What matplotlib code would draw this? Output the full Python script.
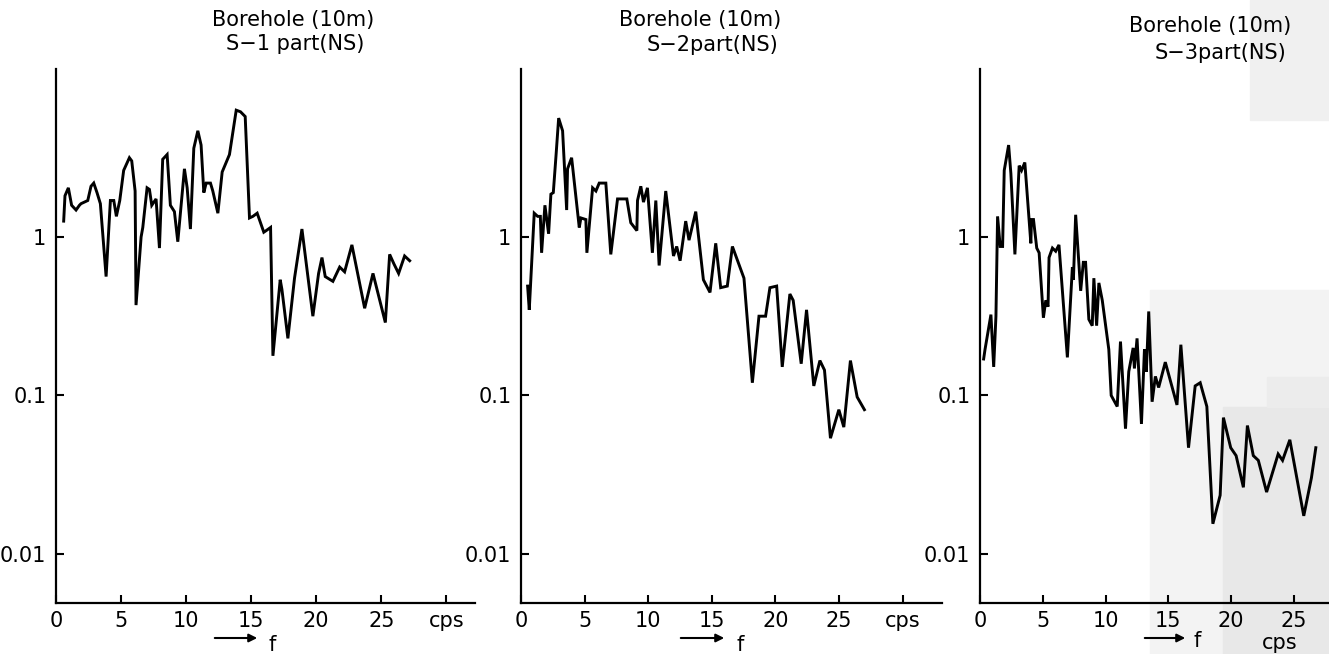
import numpy as np
import matplotlib
matplotlib.use("Agg")
import matplotlib.pyplot as plt
from matplotlib.patches import Rectangle, FancyArrowPatch

# =========================
# SPECTRA (f in cps, amplitude as log10)
# =========================
f_s1 = [0.59, 0.69, 0.95, 1.2, 1.54, 1.8, 1.92, 2.44, 2.69, 2.9, 3.15, 3.41, 3.85,
        4.18, 4.44, 4.64, 4.9, 5.2, 5.64, 5.82, 6.08, 6.15, 6.54, 6.67, 7.0, 7.18,
        7.36, 7.69, 7.95, 8.2, 8.54, 8.79, 9.1, 9.36, 9.87, 10.08, 10.33, 10.59,
        10.9, 11.15, 11.36, 11.54, 11.87, 12.05, 12.44, 12.77, 13.33, 13.85, 14.18,
        14.54, 14.87, 15.13, 15.46, 15.97, 16.15, 16.49, 16.67, 17.23, 17.36, 17.82,
        18.33, 18.9, 19.74, 20.18, 20.44, 20.69, 21.28, 21.8, 22.18, 22.74, 23.72,
        24.36, 25.31, 25.64, 25.97, 26.33, 26.79, 27.18]
lg_s1 = [0.10, 0.26, 0.31, 0.20, 0.17, 0.20, 0.21, 0.23, 0.32, 0.34, 0.28, 0.21, -0.25,
         0.23, 0.23, 0.13, 0.23, 0.42, 0.50, 0.48, 0.29, -0.43, 0.0, 0.06, 0.31, 0.30,
         0.20, 0.24, -0.07, 0.49, 0.52, 0.20, 0.16, -0.03, 0.43, 0.31, 0.05, 0.56,
         0.67, 0.58, 0.28, 0.34, 0.34, 0.29, 0.15, 0.41, 0.52, 0.80, 0.79,
         0.76, 0.12, 0.13, 0.15, 0.03, 0.04, 0.06, -0.75, -0.27, -0.33, -0.64,
         -0.26, 0.05, -0.50, -0.23, -0.13, -0.25, -0.28, -0.19, -0.22, -0.05, -0.45,
         -0.23, -0.54, -0.11, -0.17, -0.23, -0.12, -0.15]

f_s2 = [0.52, 0.65, 1.04, 1.31, 1.52, 1.62, 1.88, 2.17, 2.35, 2.54, 2.75, 2.96, 3.27,
        3.59, 3.66, 3.98, 4.58, 4.71, 5.1, 5.18, 5.63, 5.89, 6.15, 6.67, 7.06, 7.59,
        8.32, 8.63, 9.11, 9.16, 9.42, 9.63, 9.94, 10.33, 10.6, 10.86, 11.38, 11.99,
        12.24, 12.51, 12.95, 13.21, 13.74, 14.34, 14.86, 15.31, 15.7, 16.22, 16.62,
        17.53, 18.19, 18.71, 19.23, 19.57, 20.1, 20.54, 21.14, 21.4, 22.03, 22.45,
        23.02, 23.5, 23.86, 24.33, 24.99, 25.38, 25.9, 26.43, 27.0]
lg_s2 = [-0.31, -0.46, 0.15, 0.13, 0.13, -0.10, 0.20, 0.02, 0.27, 0.28, 0.51, 0.75, 0.67,
         0.17, 0.43, 0.50, 0.06, 0.12, 0.11, -0.10, 0.31, 0.29, 0.34, 0.34, -0.11, 0.24,
         0.24, 0.09, 0.04, 0.23, 0.32, 0.22, 0.31, -0.10, 0.23, -0.18, 0.29, -0.12,
         -0.06, -0.15, 0.10, -0.02, 0.16, -0.27, -0.35, -0.04, -0.32, -0.31, -0.06,
         -0.26, -0.92, -0.50, -0.50, -0.32, -0.31, -0.82, -0.36, -0.40, -0.80, -0.46,
         -0.94, -0.78, -0.84, -1.27, -1.09, -1.20, -0.78, -1.01, -1.09]

f_s3 = [0.29, 0.40, 0.87, 1.09, 1.27, 1.40, 1.61, 1.80, 1.93, 2.28, 2.46, 2.78, 3.12,
        3.31, 3.57, 4.05, 4.10, 4.26, 4.52, 4.71, 5.05, 5.24, 5.42, 5.50, 5.77, 6.03,
        6.29, 6.96, 7.36, 7.44, 7.62, 8.02, 8.23, 8.41, 8.67, 8.94, 9.07, 9.29, 9.47,
        9.74, 10.26, 10.45, 10.93, 11.19, 11.59, 11.85, 12.2, 12.3, 12.51, 12.86,
        13.1, 13.25, 13.44, 13.71, 13.97, 14.23, 14.76, 15.69, 16.0, 16.61, 17.14,
        17.54, 18.07, 18.55, 19.13, 19.39, 19.97, 20.4, 20.98, 21.3, 21.77, 22.17,
        22.83, 23.75, 24.1, 24.68, 25.79, 26.4, 26.75]
lg_s3 = [-0.77, -0.71, -0.49, -0.82, -0.50, 0.13, -0.06, -0.06, 0.42, 0.58, 0.40, -0.11, 0.45,
         0.42, 0.47, -0.04, 0.11, 0.11, -0.07, -0.10, -0.51, -0.40, -0.44, -0.13, -0.07, -0.09,
         -0.05, -0.76, -0.19, -0.27, 0.14, -0.34, -0.16, -0.16, -0.52, -0.56, -0.26, -0.56, -0.29,
         -0.40, -0.71, -1.0, -1.07, -0.66, -1.21, -0.85, -0.70, -0.83, -0.64, -1.18,
         -0.71, -0.85, -0.47, -1.04, -0.88, -0.95, -0.79, -1.06, -0.68, -1.33, -0.94,
         -0.92, -1.07, -1.81, -1.63, -1.14, -1.33, -1.38, -1.58, -1.19, -1.38, -1.41,
         -1.61, -1.37, -1.41, -1.28, -1.76, -1.52, -1.33]

titles = [("Borehole (10m)", "S\u22121 part(NS)"),
          ("Borehole (10m)", "S\u22122part(NS)"),
          ("Borehole (10m)", "S\u22123part(NS)")]
x_ticks = [0, 5, 10, 15, 20, 25]
y_ticks = [0.01, 0.1, 1]
y_labels = ["0.01", "0.1", "1"]

W, H = 1329, 654
plt.rcParams['font.family'] = ['DejaVu Sans']

fig = plt.figure(figsize=(W / 100, H / 100), dpi=100)
fig.patch.set_facecolor("white")


def px(x, y):
    # pixel position -> figure fraction
    return x / W, 1 - y / H


# scanned page shading on the right-hand panel
for (x0, y0, x1, y1, c) in [(1150, 290, 1329, 654, "#f3f3f3"),
                            (1223, 407, 1329, 654, "#e8e8e8"),
                            (1267, 377, 1329, 407, "#ececec"),
                            (1250, 0, 1329, 120, "#f0f0f0")]:
    fig.patches.append(Rectangle((x0 / W, 1 - y1 / H), (x1 - x0) / W, (y1 - y0) / H,
                                 transform=fig.transFigure, color=c, zorder=-5))

# axes boxes in pixels: left, right, xmax
panels = [(56, 475, 32.2), (521, 942, 33.1), (980, 1329, 27.8)]
series = [(f_s1, lg_s1), (f_s2, lg_s2), (f_s3, lg_s3)]
top_px, bot_px = 69, 603

for i, ((l, r, xmax), (f, lg)) in enumerate(zip(panels, series)):
    ax = fig.add_axes([l / W, 1 - bot_px / H, (r - l) / W, (bot_px - top_px) / H])
    ax.set_zorder(1)
    ax.patch.set_alpha(0)
    ax.plot(f, 10 ** np.array(lg), color="black", lw=2.1, solid_joinstyle="miter")
    ax.set_yscale("log")
    ax.set_ylim(10 ** -2.31, 10 ** 1.06)
    ax.set_xlim(0, xmax)
    for s in ["top", "right"]:
        ax.spines[s].set_visible(False)
    for s in ["left", "bottom"]:
        ax.spines[s].set_linewidth(1.6)
    ax.yaxis.set_minor_locator(matplotlib.ticker.NullLocator())
    ax.set_yticks(y_ticks)
    ax.set_yticklabels(y_labels)
    if i < 2:
        ax.set_xticks(x_ticks + [30])
        ax.set_xticklabels([str(t) for t in x_ticks] + ["cps"])
    else:
        ax.set_xticks(x_ticks)
        ax.set_xticklabels([str(t) for t in x_ticks])
    ax.tick_params(direction="in", length=6, width=1.5, labelsize=15, pad=6)
    ax.tick_params(axis="y", pad=7)

# titles, frequency arrows and units
title_pos = [((293, 20), (295, 44)), ((700, 20), (712, 45)), ((1210, 26), (1221, 53))]
arrow_pos = [(212, 260, 638, 272, 645), (678, 727, 638, 740, 645), (1142, 1188, 638, 1197, 641)]
for (t1, t2), ((x1, y1), (x2, y2)), (a0, a1, ay, fx, fy) in zip(titles, title_pos, arrow_pos):
    fig.text(*px(x1, y1), t1, ha="center", va="center", fontsize=15)
    fig.text(*px(x2, y2), t2, ha="center", va="center", fontsize=15)
    fig.patches.append(FancyArrowPatch(
        px(a0, ay), px(a1, ay), transform=fig.transFigure, arrowstyle="-|>",
        mutation_scale=12, lw=1.5, color="black", zorder=2))
    fig.text(*px(fx, fy), "f", ha="center", va="center", fontsize=15, zorder=2)

fig.text(*px(1280, 643), "cps", ha="center", va="center", fontsize=15, zorder=2)

fig.savefig("out.png", dpi=100)
